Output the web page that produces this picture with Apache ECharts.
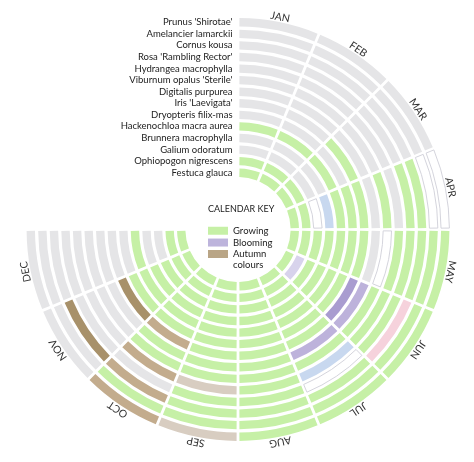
<!DOCTYPE html>
<html>
<head>
<meta charset="utf-8">
<script src="https://cdn.jsdelivr.net/npm/echarts@6/dist/echarts.min.js"></script>
<style>
html, body { margin: 0; padding: 0; background: #fff; }
#container { width: 474px; height: 462px; }
</style>
</head>
<body>
<div id="container"></div>
<script>
let months = ['JAN', 'FEB', 'MAR', 'APR', 'MAY', 'JUN', 'JUL', 'AUG', 'SEP', 'OCT', 'NOV', 'DEC'];

// outermost ring first
let plants = [
    "Prunus 'Shirotae'",
    'Amelancier lamarckii',
    'Cornus kousa',
    "Rosa 'Rambling Rector'",
    'Hydrangea macrophylla',
    "Viburnum opalus 'Sterile'",
    'Digitalis purpurea',
    "Iris 'Laevigata'",
    'Dryopteris filix-mas',
    'Hackenochloa macra aurea',
    'Brunnera macrophylla',
    'Galium odoratum',
    'Ophiopogon nigrescens',
    'Festuca glauca'
];

// one letter per month, JAN..DEC
// G dormant, V growing, W B K P U L blooming (flower colour), T A D autumn colours
let stages = [
    'GGGWVVVVTAGG',
    'GGGWVVVVVVGG',
    'GGGVVKVVVADG',
    'GGGVVVWVVGGG',
    'GGGGVVBVTAGG',
    'GGGVWVVVVVGG',
    'GGGGGUUVVVGG',
    'GGVVVPVVVADG',
    'GGGVVVVVVVVG',
    'VVVVVVVVVVVV',
    'GGGBVVVVVVVG',
    'GGGWVVVVVVVG',
    'VVVVVLVVVVVV',
    'VVVVVVVVVVVV'
];

let legendNames = ['Growing', 'Blooming', 'Autumn colours'];

let groupOf = {G: 'Dormant', V: 'Growing', W: 'Blooming', B: 'Blooming', K: 'Blooming', P: 'Blooming',
    U: 'Blooming', L: 'Blooming', T: 'Autumn colours', A: 'Autumn colours', D: 'Autumn colours'};
let colorOf = {G: '#e5e5e7', V: '#c6f0a6', W: '#ffffff', B: '#c8d8ef', K: '#f6d2dc', P: '#a99cd0',
    U: '#bdb2db', L: '#d8d3ec', T: '#d8cdc1', A: '#c3ac8d', D: '#a8916a'};
let groupColor = {Dormant: '#e5e5e7', Growing: '#c6f0a6', Blooming: '#bdb4dc', 'Autumn colours': '#b9a586'};

let font = 'Lato';

function polarOf(api, cs, rv, av) {
    let p = api.coord([rv, av]);
    let dx = p[0] - cs.cx, dy = p[1] - cs.cy;
    return {r: Math.sqrt(dx * dx + dy * dy), angle: Math.atan2(dy, dx)};
}

function ringCell(items) {
    return function (params, api) {
        let cs = params.coordSys;
        let rv = api.value(0), av = api.value(1);
        let a = polarOf(api, cs, rv - 0.5, av - 0.5);
        let b = polarOf(api, cs, rv + 0.5, av + 0.5);
        let r0 = a.r + 1.6, r1 = b.r - 1.6;
        let start = a.angle, end = b.angle;
        while (end <= start) end += Math.PI * 2;
        let trim = 1.4 / ((r0 + r1) / 2);
        let item = items[params.dataIndex];
        return {
            type: 'sector',
            shape: {cx: cs.cx, cy: cs.cy, r0: r0, r: r1, startAngle: start + trim, endAngle: end - trim, clockwise: true},
            style: {fill: api.visual('color'), stroke: item.outlined ? '#cfcfd8' : null, lineWidth: 0.9}
        };
    };
}

let groups = {Dormant: [], Growing: [], Blooming: [], 'Autumn colours': []};
stages.forEach((row, k) => {
    row.split('').forEach((c, m) => {
        groups[groupOf[c]].push({
            value: [plants.length - k - 0.5, m + 0.5],
            itemStyle: {color: colorOf[c]},
            outlined: c === 'W'
        });
    });
});

let series = Object.keys(groups).map((name) => ({
    name: name,
    type: 'custom',
    coordinateSystem: 'polar',
    itemStyle: {color: groupColor[name]},
    renderItem: ringCell(groups[name]),
    data: groups[name],
    silent: true
}));

series.push({
    name: 'months',
    type: 'custom',
    coordinateSystem: 'polar',
    silent: true,
    data: months.map((m, i) => [plants.length + 0.3, i + 0.5]),
    renderItem: function (params, api) {
        let cs = params.coordSys;
        let p = api.coord([api.value(0), api.value(1)]);
        let turn = Math.atan2(p[1] - cs.cy, p[0] - cs.cx) + Math.PI / 2;
        return {
            type: 'text', x: p[0], y: p[1], rotation: -turn,
            style: {text: months[params.dataIndex], align: 'center', verticalAlign: 'middle',
                fontSize: 10.5, fontFamily: font, fill: '#333'}
        };
    }
});

series.push({
    name: 'plants',
    type: 'custom',
    coordinateSystem: 'polar',
    silent: true,
    data: plants.map((p, k) => [plants.length - k - 0.5, 0]),
    renderItem: function (params, api) {
        let p = api.coord([api.value(0), api.value(1)]);
        return {
            type: 'text', x: p[0] - 5.5, y: p[1],
            style: {text: plants[params.dataIndex], align: 'right', verticalAlign: 'middle',
                fontSize: 9.5, fontFamily: font, fill: '#222'}
        };
    }
});

let chart = echarts.init(document.getElementById('container'));
chart.setOption({
    animation: false,
    title: {
        text: 'CALENDAR KEY',
        left: 203,
        top: 199.5,
        textStyle: {fontSize: 9, fontWeight: 'normal', fontFamily: font, color: '#222'}
    },
    legend: [{
        data: legendNames.slice(0, 2),
        orient: 'vertical',
        left: 203,
        top: 220,
        icon: 'rect',
        itemWidth: 20,
        itemHeight: 8,
        itemGap: 0.3,
        selectedMode: false,
        textStyle: {fontSize: 9.5, lineHeight: 11.5, fontFamily: font, color: '#222'}
    }, {
        data: legendNames.slice(2),
        orient: 'vertical',
        left: 203,
        top: 232.5,
        icon: 'rect',
        itemWidth: 20,
        itemHeight: 8,
        selectedMode: false,
        formatter: ' \nAutumn\ncolours',
        textStyle: {fontSize: 9.5, lineHeight: 11, fontFamily: font, color: '#222'}
    }],
    polar: {center: [238, 229.5], radius: [51, 213]},
    angleAxis: {type: 'value', min: 0, max: 16, startAngle: 90, clockwise: true, show: false},
    radiusAxis: {type: 'value', min: 0, max: plants.length, show: false},
    series: series
});
</script>
</body>
</html>
